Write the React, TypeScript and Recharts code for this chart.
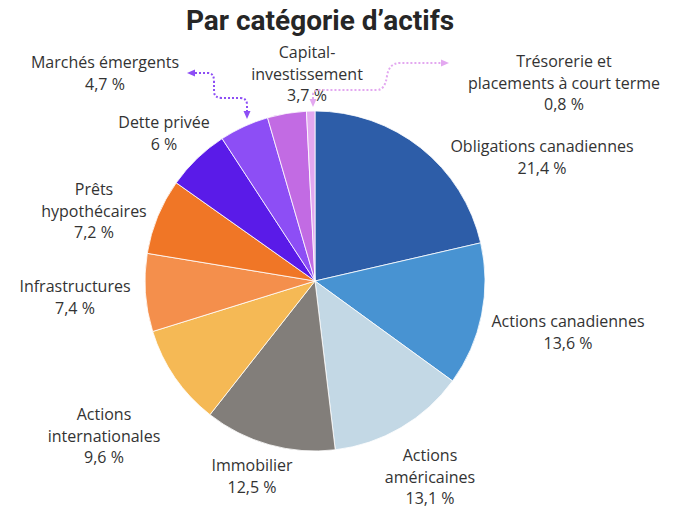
import React from "react";
import { PieChart, Pie, Cell } from "recharts";

// Répartition de l'actif
const CATEGORIES = [
  ["Obligations canadiennes"],
  ["Actions canadiennes"],
  ["Actions", "américaines"],
  ["Immobilier"],
  ["Actions", "internationales"],
  ["Infrastructures"],
  ["Prêts", "hypothécaires"],
  ["Dette privée"],
  ["Marchés émergents"],
  ["Capital-", "investissement"],
  ["Trésorerie et", "placements à court terme"],
];
const VALUES = [21.4, 13.6, 13.1, 12.5, 9.6, 7.4, 7.2, 6, 4.7, 3.7, 0.8];
const COLORS = [
  "#2d5da8", "#4893d2", "#c3d8e5", "#827e7a", "#f5b955", "#f48f4c",
  "#f07626", "#5a1be8", "#8d4ef5", "#c26be3", "#e3a8f0",
];

const data = CATEGORIES.map((lines, i) => ({ name: lines.join(" "), lines, value: VALUES[i] }));

const W = 678;
const H = 510;
const CX = 315;
const CY = 281;
const R = 170;
const LINE_H = 21.5;

// label anchor (center x, first baseline) relative to pie center
const LABEL_POS = [
  [227, -129], [253, 46], [115, 180], [-63, 190], [-211, 139], [-240, 11],
  [-221, -86], [-151, -153], [-210, -213], [-8, -223], [249, -214],
];

const fmt = (v: number) => String(v).replace(".", ",") + " %";

const renderLabel = (props: any) => {
  const { cx, cy, index } = props;
  const d = data[index];
  const [dx, dy] = LABEL_POS[index];
  const lines = [...d.lines, fmt(d.value)];
  return (
    <text key={index} x={cx + dx} y={cy + dy} textAnchor="middle" fill="#333"
      style={{ fontFamily: "'Open Sans', sans-serif", fontSize: 16 }}>
      {lines.map((l, j) => (
        <tspan key={j} x={cx + dx} dy={j === 0 ? 0 : LINE_H}>{l}</tspan>
      ))}
    </text>
  );
};

export default function App() {
  return (
    <div style={{ position: "absolute", left: 0, top: 0, width: W, height: H, background: "#fff" }}>
      <div style={{
        position: "absolute", left: 0, top: 4, width: 640, textAlign: "center",
        fontFamily: "Roboto, sans-serif", fontWeight: 700, fontSize: 28, color: "#262626",
      }}>
        Par catégorie d’actifs
      </div>
      <PieChart width={W} height={H} margin={{ top: 0, right: 0, bottom: 0, left: 0 }}
        style={{ position: "absolute", left: 0, top: 0 }}>
        <Pie data={data} dataKey="value" cx={CX} cy={CY} outerRadius={R}
          startAngle={90} endAngle={-270} stroke="#fff" strokeWidth={0.8}
          label={renderLabel} labelLine={false} isAnimationActive={false}>
          {data.map((_, i) => <Cell key={i} fill={COLORS[i]} />)}
        </Pie>
      </PieChart>
      <svg width={W} height={H} style={{ position: "absolute", left: 0, top: 0, pointerEvents: "none" }}>
        <defs>
          <marker id="arrP" markerUnits="userSpaceOnUse" markerWidth="8" markerHeight="8"
            refX="4" refY="4" orient="auto-start-reverse">
            <path d="M0,0.5 L8,4 L0,7.5 z" fill="#8d4ef5" />
          </marker>
          <marker id="arrK" markerUnits="userSpaceOnUse" markerWidth="8" markerHeight="8"
            refX="4" refY="4" orient="auto-start-reverse">
            <path d="M0,0.5 L8,4 L0,7.5 z" fill="#e3a8f0" />
          </marker>
        </defs>
        <path d={`M${CX - 124},${CY - 208} L${CX - 107},${CY - 208} Q${CX - 101},${CY - 208} ${CX - 101},${CY - 200} L${CX - 101},${CY - 190} Q${CX - 101},${CY - 183} ${CX - 93},${CY - 183} L${CX - 75},${CY - 183} Q${CX - 68},${CY - 183} ${CX - 68},${CY - 176} L${CX - 68},${CY - 166}`}
          fill="none" stroke="#8d4ef5" strokeWidth={2} strokeDasharray="2 2"
          markerStart="url(#arrP)" markerEnd="url(#arrP)" />
        <path d={`M${CX - 2},${CY - 178} L${CX - 2},${CY - 186} Q${CX - 2},${CY - 191} ${CX + 5},${CY - 191} L${CX + 62},${CY - 191} Q${CX + 70},${CY - 191} ${CX + 72},${CY - 205} Q${CX + 74},${CY - 218} ${CX + 85},${CY - 218} L${CX + 130},${CY - 218}`}
          fill="none" stroke="#e3a8f0" strokeWidth={2} strokeDasharray="2 2"
          markerStart="url(#arrK)" markerEnd="url(#arrK)" />
      </svg>
    </div>
  );
}
